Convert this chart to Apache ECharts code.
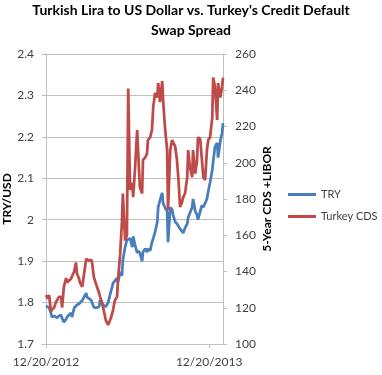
<!DOCTYPE html>
<html><head><meta charset="utf-8">
<script src="https://cdn.jsdelivr.net/npm/echarts@6/dist/echarts.min.js"></script>
<style>html,body{margin:0;padding:0;background:#fff}#c{width:382px;height:375px}</style>
</head><body><div id="c"></div>
<script>
const dates = [
'2012-12-20','2012-12-24','2012-12-27','2012-12-31','2013-01-02','2013-01-07','2013-01-11','2013-01-14','2013-01-18','2013-01-23',
'2013-01-25','2013-01-29','2013-02-03','2013-02-05','2013-02-09','2013-02-14','2013-02-16','2013-02-21','2013-02-25','2013-02-27',
'2013-03-04','2013-03-06','2013-03-11','2013-03-15','2013-03-20','2013-03-22','2013-03-26','2013-03-31','2013-04-02','2013-04-06',
'2013-04-11','2013-04-13','2013-04-18','2013-04-20','2013-04-24','2013-04-27','2013-05-03','2013-05-06','2013-05-08','2013-05-12',
'2013-05-15','2013-05-17','2013-05-19','2013-05-23','2013-05-28','2013-05-30','2013-06-04','2013-06-08','2013-06-10','2013-06-15',
'2013-06-19','2013-06-22','2013-06-26','2013-07-01','2013-07-03','2013-07-07','2013-07-12','2013-07-14','2013-07-18','2013-07-23',
'2013-07-25','2013-07-30','2013-08-03','2013-08-05','2013-08-10','2013-08-14','2013-08-17','2013-08-21','2013-08-26','2013-08-28',
'2013-09-01','2013-09-06','2013-09-08','2013-09-12','2013-09-17','2013-09-19','2013-09-24','2013-09-28','2013-09-30','2013-10-05',
'2013-10-09','2013-10-12','2013-10-16','2013-10-20','2013-10-23','2013-10-27','2013-11-01','2013-11-03','2013-11-07','2013-11-12',
'2013-11-14','2013-11-19','2013-11-23','2013-11-25','2013-11-30','2013-12-04','2013-12-07','2013-12-11','2013-12-15','2013-12-18',
'2013-12-22','2013-12-27','2013-12-29','2014-01-02','2014-01-07','2014-01-09','2014-01-14','2014-01-18','2014-01-20'
];
const tryUsd = [
1.792,1.79,1.787,1.775,1.765,1.768,1.765,1.763,1.768,1.77,
1.762,1.753,1.76,1.765,1.77,1.775,1.765,1.787,1.79,1.794,
1.797,1.80,1.805,1.813,1.823,1.813,1.81,1.806,1.80,1.789,
1.787,1.787,1.79,1.806,1.80,1.794,1.79,1.789,1.80,1.818,
1.83,1.838,1.847,1.85,1.859,1.85,1.874,1.865,1.903,1.934,
1.951,1.947,1.955,1.934,1.96,1.94,1.92,1.925,1.92,1.90,
1.922,1.93,1.922,1.93,1.925,1.945,1.955,1.97,1.995,2.03,
2.047,2.065,2.04,2.03,2.02,1.946,2.03,2.025,2.013,1.995,
1.99,1.985,1.978,1.975,1.968,1.98,1.99,2.005,2.016,2.03,
2.05,2.02,2.012,2.0,2.02,2.035,2.03,2.03,2.05,2.068,
2.09,2.12,2.14,2.176,2.185,2.15,2.19,2.21,2.233
];
const turkeyCds = [
127,125,127,117.7,119,120,123,124,126,126,
120,131.5,136.4,134,135,136,137,140,145,139,
136,134,131.5,131.5,147,146.5,146,146.5,145,137,
133,131.5,128,126,123,120,113,112,110.5,113,
115,116,118.7,124,126,135,150,168,183,157,
160,241,185,189,181,196,218,207,186.6,183,
201.5,203,205,212.5,214,218,231,238.5,236,244,
233.5,245,234.6,220,207,174,207,212.5,213,209,
201.5,192,175.6,178,181,183,192,207,197.7,192,
207,194,201.5,214,213,212,192,190.5,207,212.5,
214,225,247,242,223.6,244,236,242,247
];
const startDate = '2012-12-20';
const endDate = '2014-01-20';
const xTickLabels = ['12/20/2012', '12/20/2013'];
const leftTicks = {min: 1.7, max: 2.4, step: 0.1};
const rightTicks = {min: 100, max: 260, step: 20};

const DAY = 86400000;
const t0 = Date.parse(startDate);
const dayOf = d => Math.round((Date.parse(d) - t0) / DAY);
const xMax = dayOf(endDate);
const tryData = dates.map((d, i) => [dayOf(d), tryUsd[i]]);
const cdsData = dates.map((d, i) => [dayOf(d), turkeyCds[i]]);

const FONT = 'Lato, "Open Sans", sans-serif';
const gridGray = '#bfbfbf';
const labelColor = '#404040';

const chart = echarts.init(document.getElementById('c'), null, {renderer: 'canvas'});
chart.setOption({
  animation: false,
  textStyle: {fontFamily: FONT},
  title: {
    text: "Turkish Lira to US Dollar vs. Turkey's Credit Default\nSwap Spread",
    left: 'center', top: 0, padding: 0,
    textStyle: {fontFamily: FONT, fontWeight: 'bold', fontSize: 14, lineHeight: 20, color: '#000'}
  },
  legend: {
    orient: 'vertical', left: 288, top: 189, padding: 0,
    itemWidth: 28, itemHeight: 3, itemGap: 11,
    icon: 'rect',
    textStyle: {fontFamily: FONT, fontSize: 11, color: labelColor},
    data: ['TRY', 'Turkey CDS']
  },
  grid: {left: 46, right: 159, top: 54, bottom: 31, containLabel: false},
  xAxis: {
    type: 'value', min: 0, max: xMax, interval: 365,
    axisLine: {show: true, lineStyle: {color: gridGray, width: 1}},
    axisTick: {show: true, length: 4, lineStyle: {color: gridGray}},
    splitLine: {show: false},
    axisLabel: {
      color: labelColor, fontSize: 12, fontFamily: FONT, margin: 12,
      showMaxLabel: false,
      formatter: v => v === 0 ? xTickLabels[0] : (v === 365 ? xTickLabels[1] : '')
    }
  },
  yAxis: [{
    type: 'value', min: leftTicks.min, max: leftTicks.max, interval: leftTicks.step,
    name: 'TRY/USD', nameLocation: 'middle', nameGap: 33, nameRotate: 90,
    nameTextStyle: {fontFamily: FONT, fontWeight: 'bold', fontSize: 12, color: '#000'},
    axisLine: {show: true, lineStyle: {color: gridGray}},
    axisTick: {show: true, length: 4, lineStyle: {color: gridGray}},
    splitLine: {show: true, lineStyle: {color: gridGray, width: 1}},
    axisLabel: {color: labelColor, fontSize: 12, fontFamily: FONT, margin: 12,
      formatter: v => String(Math.round(v * 10) / 10)}
  }, {
    type: 'value', min: rightTicks.min, max: rightTicks.max, interval: rightTicks.step,
    position: 'right',
    name: '5-Year CDS +LIBOR', nameLocation: 'middle', nameGap: 38, nameRotate: 90,
    nameTextStyle: {fontFamily: FONT, fontWeight: 'bold', fontSize: 12, color: '#000'},
    axisLine: {show: true, lineStyle: {color: gridGray}},
    axisTick: {show: true, length: 4, lineStyle: {color: gridGray}},
    splitLine: {show: false},
    axisLabel: {color: labelColor, fontSize: 12, fontFamily: FONT, margin: 12}
  }],
  series: [{
    name: 'TRY', type: 'line', yAxisIndex: 0, data: tryData,
    showSymbol: false, symbol: 'none',
    lineStyle: {color: '#4a7ebb', width: 2.75}, itemStyle: {color: '#4a7ebb'}
  }, {
    name: 'Turkey CDS', type: 'line', yAxisIndex: 1, data: cdsData,
    showSymbol: false, symbol: 'none',
    lineStyle: {color: '#be4b48', width: 2.75}, itemStyle: {color: '#be4b48'}
  }]
});
</script></body></html>
